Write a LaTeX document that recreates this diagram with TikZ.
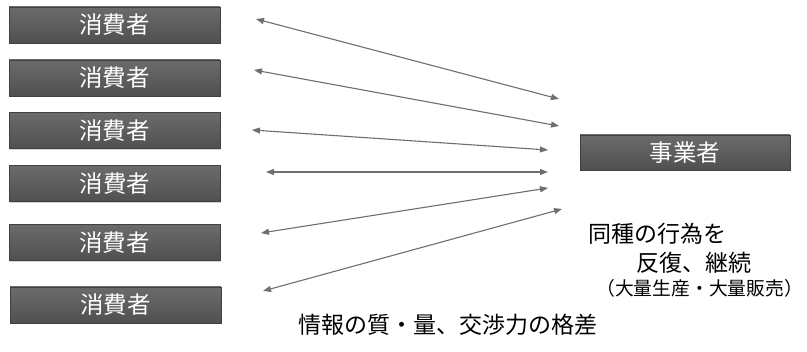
\documentclass[tikz,border=0pt]{standalone}
\usepackage{fontspec}
\setmainfont{Noto Sans CJK JP}
\usetikzlibrary{arrows.meta,shadows}
\definecolor{boxtop}{HTML}{6B6B6B}
\definecolor{boxbot}{HTML}{505050}
\definecolor{arrowgray}{HTML}{6E6E6E}
\tikzset{
  actor/.style={rectangle, minimum width=211pt, minimum height=36pt, inner sep=0pt,
    top color=boxtop, bottom color=boxbot, draw=boxbot!80!black, line width=0.4pt,
    text=white, font=\fontsize{23.5}{26}\selectfont,
    drop shadow={shadow xshift=0.8pt, shadow yshift=-1.2pt, opacity=0.35}},
  link/.style={draw=arrowgray, line width=1.1pt, {Triangle[length=8pt,width=6pt]}-{Triangle[length=8pt,width=6pt]}},
  lbl/.style={text=black, inner sep=0pt, font=\fontsize{23}{26}\selectfont},
  small/.style={text=black, inner sep=0pt, font=\fontsize{18.8}{22}\selectfont}
}
\begin{document}
\begin{tikzpicture}[x=1pt,y=-1pt]
\useasboundingbox (0,0) rectangle (807,352);
\node[actor] (c1) at (114.5,25) {消費者};
\node[actor] (c2) at (114.5,78) {消費者};
\node[actor] (c3) at (114.5,130.5) {消費者};
\node[actor] (c4) at (115,183.5) {消費者};
\node[actor] (c5) at (114.5,242.5) {消費者};
\node[actor] (c6) at (115.5,305) {消費者};
\node[actor, minimum width=210pt, minimum height=35pt] (biz) at (685,152.5) {事業者};
\coordinate (l1) at (256,19);
\coordinate (r1) at (559,99);
\coordinate (l2) at (254,70);
\coordinate (r2) at (559,126);
\coordinate (l3) at (252,130);
\coordinate (r3) at (548,150);
\coordinate (l4) at (266,172);
\coordinate (r4) at (548,172);
\coordinate (l5) at (261,233);
\coordinate (r5) at (548,188);
\coordinate (l6) at (263,291);
\coordinate (r6) at (562,209);
\draw[link] (l1) -- (r1);
\draw[link] (l2) -- (r2);
\draw[link] (l3) -- (r3);
\draw[link] (l4) -- (r4);
\draw[link] (l5) -- (r5);
\draw[link] (l6) -- (r6);
\node[lbl, anchor=west] (t1) at (588,234) {同種の行為を};
\node[lbl, anchor=west] (t2) at (636,263) {反復、継続};
\node[small, anchor=west] (t3) at (596,288) {（大量生産・大量販売）};
\node[lbl] (t4) at (448,325) {情報の質・量、交渉力の格差};
\end{tikzpicture}
\end{document}
